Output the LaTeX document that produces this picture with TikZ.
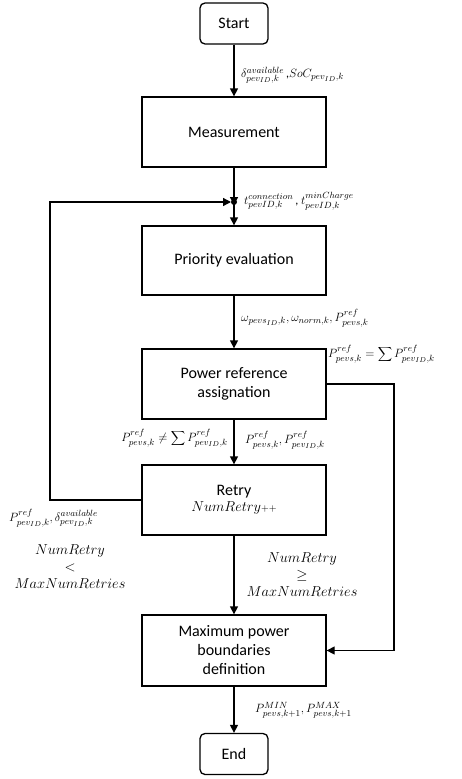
\documentclass[tikz,border=0pt]{standalone}
\usepackage{fontspec}
\setmainfont{Carlito}
\DeclareMathSizes{12}{12}{9}{7}
\DeclareMathSizes{14}{14}{10}{8}
\usetikzlibrary{arrows.meta}
\begin{document}
\begin{tikzpicture}[x=1pt,y=-1pt,
  box/.style={draw, line width=1.3pt, minimum width=184pt, minimum height=70pt, align=center, font=\fontsize{16}{19}\selectfont, inner sep=2pt},
  term/.style={draw, line width=1.3pt, rounded corners=5pt, minimum width=68pt, minimum height=41pt, font=\fontsize{16}{19}\selectfont},
  conn/.style={line width=1.3pt, -{Triangle[width=8pt,length=8pt]}},
  lab/.style={font=\fontsize{12}{14}\selectfont, inner sep=1pt},
  bigl/.style={font=\fontsize{14}{16}\selectfont, inner sep=1pt, align=center}
]
\useasboundingbox (0,0) rectangle (462,779);
\node[term] (start) at (234,23.5) {Start};
\node[box] (meas) at (234,132) {Measurement};
\node[box, minimum height=69pt] (prio) at (234,260.5) {Priority evaluation};
\node[box] (pow) at (234,384) {Power reference\\assignation};
\node[box] (retry) at (234,500) {Retry\\[-3pt]{\fontsize{14}{16}\selectfont$NumRetry{\scriptstyle{+}{+}}$}};
\node[box, minimum height=71pt] (maxb) at (234,650.5) {Maximum power\\boundaries\\definition};
\node[term] (end) at (234,754) {End};
\coordinate (junc) at (234,202);
\coordinate (lc1) at (50,500);
\coordinate (lc2) at (50,202);
\coordinate (rc1) at (394,384);
\coordinate (rc2) at (394,650.5);

\draw[conn] (start) -- (meas);
\draw[conn] (meas) -- ([yshift=-3pt]junc);
\draw[conn] (junc) -- (prio);
\draw[conn] (prio) -- (pow);
\draw[conn] (pow) -- (retry);
\draw[conn] (retry) -- (maxb);
\draw[conn] (maxb) -- (end);
\draw[conn] (retry.west) -- (lc1) -- (lc2) -- ([xshift=-3pt]junc);
\draw[conn] (pow.east) -- (rc1) -- (rc2) -- (maxb.east);
\fill (junc) circle (3pt);

\node[lab, anchor=west] (l1) at (240,75) {$\delta^{available}_{pev_{ID},k}$\,,$SoC_{pev_{ID},k}$};
\node[lab, anchor=west] (l2) at (243,201) {$t^{connection}_{pevID,k}$\,, $t^{minCharge}_{pevID,k}$};
\node[lab, anchor=west] (l3) at (240,318) {$\omega_{pevs_{ID},k}, \omega_{norm,k}, P^{ref}_{pevs,k}$};
\node[lab, anchor=west] (l4) at (327,354) {$P^{ref}_{pevs,k} = \displaystyle\sum P^{ref}_{pev_{ID},k}$};
\node[lab, anchor=east] (l5) at (229,438) {$P^{ref}_{pevs,k} \neq \displaystyle\sum P^{ref}_{pev_{ID},k}$};
\node[lab, anchor=west] (l6) at (244,440) {$P^{ref}_{pevs,k}, P^{ref}_{pev_{ID},k}$};
\node[lab, anchor=west] (l7) at (8,518) {$P^{ref}_{pev_{ID},k}, \delta^{available}_{pev_{ID},k}$};
\node[bigl] (l8) at (70,567) {$NumRetry$\\[1pt]$<$\\[1pt]$MaxNumRetries$};
\node[bigl] (l9) at (302,575) {$NumRetry$\\[1pt]$\geq$\\[1pt]$MaxNumRetries$};
\node[lab, anchor=west] (l10) at (254,710) {$P^{MIN}_{pevs,k+1}, P^{MAX}_{pevs,k+1}$};
\end{tikzpicture}
\end{document}
